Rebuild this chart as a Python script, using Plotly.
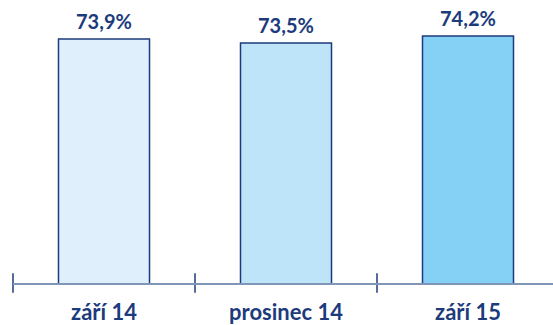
import plotly.graph_objects as go

categories = ["září 14", "prosinec 14", "září 15"]
values = [73.9, 73.5, 74.2]
value_labels = ["73,9%", "73,5%", "74,2%"]
bar_colors = ["#DFF0FC", "#BEE4F9", "#85D0F5"]

navy = "#1C3B7C"
font_family = "Lato"
x_range = [-0.5, 2.467]
y_range = [49.5, 77.8]

fig = go.Figure()
fig.add_trace(go.Bar(
    x=categories, y=values, width=0.5,
    marker=dict(color=bar_colors, line=dict(color=navy, width=1.5)),
    hoverinfo="skip", showlegend=False,
))

# tick marks crossing the axis line at category boundaries
boundaries = [i - 0.5 for i in range(len(categories) + 1) if i - 0.5 <= x_range[1]]
fig.add_trace(go.Scatter(
    x=boundaries, y=[y_range[0]] * len(boundaries), xaxis="x2", mode="markers",
    marker=dict(symbol="line-ns", size=14, line=dict(color=navy, width=1.5)),
    cliponaxis=False, hoverinfo="skip", showlegend=False,
))

for c, v, t in zip(categories, values, value_labels):
    fig.add_annotation(x=c, y=v, text=f"<b>{t}</b>", showarrow=False,
                       yanchor="bottom", yshift=4,
                       font=dict(family=font_family, size=20, color=navy))

fig.update_layout(
    width=553, height=325,
    margin=dict(l=13, r=0, t=0, b=42, autoexpand=False),
    paper_bgcolor="white", plot_bgcolor="white",
    xaxis=dict(
        type="category", range=x_range, automargin=False,
        categoryorder="array", categoryarray=categories,
        showline=True, linecolor="#7F96B8", linewidth=2,
        ticks="", showgrid=False, zeroline=False,
        tickfont=dict(family=font_family, size=22, color=navy),
        tickprefix="<b>", ticksuffix="</b>",
        ticklabelstandoff=9,
    ),
    xaxis2=dict(type="linear", range=x_range, overlaying="x", anchor="y",
                visible=False, showgrid=False, zeroline=False, automargin=False),
    yaxis=dict(range=y_range, visible=False, showgrid=False, zeroline=False,
               automargin=False),
)

fig.write_html("out.html")
